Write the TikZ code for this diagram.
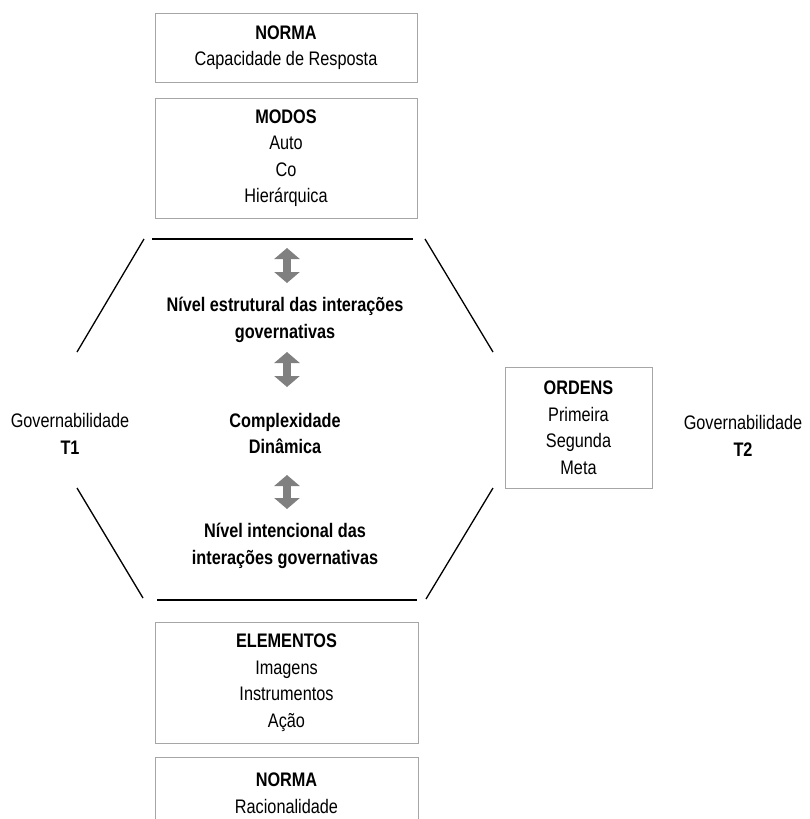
\documentclass[tikz,border=0pt]{standalone}
\usepackage{fontspec}
\setmainfont{Liberation Sans}[FakeStretch=0.83]
\usetikzlibrary{arrows.meta}
\definecolor{boxgray}{HTML}{A6A6A6}
\definecolor{arrowgray}{HTML}{808080}
\begin{document}
\begin{tikzpicture}[x=1pt,y=-1pt,
  every node/.style={font=\fontsize{19.6}{26.5}\selectfont, align=center, inner sep=0pt},
  infobox/.style={draw=boxgray, line width=1pt},
  hexside/.style={line width=1.3pt, black},
  hexedge/.style={line width=2pt, black},
  updown/.style={draw=arrowgray, line width=8pt,
    {Triangle[length=11pt,width=25pt]}-{Triangle[length=11pt,width=25pt]}},
  boldlabel/.style={font=\fontsize{19.6}{26.5}\selectfont\bfseries}
]
\useasboundingbox (0,0) rectangle (809,819);
\clip (0,0) rectangle (809,819);

% boxes above the hexagon
\node[infobox, minimum width=262pt, minimum height=69pt] (normatop) at (286,47.5)
  {\textbf{NORMA}\\Capacidade de Resposta};
\node[infobox, minimum width=262pt, minimum height=120pt] (modos) at (286,158)
  {\textbf{MODOS}\\Auto\\Co\\Hierárquica};

% hexagon outline
\draw[hexedge] (152,239) -- (413,239);
\draw[hexside] (144,239) -- (77,352);
\draw[hexside] (425,239) -- (493,352);
\draw[hexside] (77,488) -- (143,598);
\draw[hexside] (493,488) -- (426,599);
\draw[hexedge] (157,600) -- (417,600);

% contents of the hexagon
\coordinate (a1t) at (287,248);
\coordinate (a1b) at (287,283);
\coordinate (a2t) at (287,352);
\coordinate (a2b) at (287,387);
\coordinate (a3t) at (287,475);
\coordinate (a3b) at (287,509);
\draw[updown] (a1t) -- (a1b);
\node[boldlabel] (estrutural) at (285,320) {Nível estrutural das interações\\governativas};
\draw[updown] (a2t) -- (a2b);
\node[boldlabel] (complex) at (285,433.5) {Complexidade\\Dinâmica};
\draw[updown] (a3t) -- (a3b);
\node[boldlabel] (intencional) at (285,546) {Nível intencional das\\interações governativas};

% side labels
\node (t1) at (70,434) {Governabilidade\\\textbf{T1}};
\node (t2) at (743,436) {Governabilidade\\\textbf{T2}};
\node[infobox, minimum width=147pt, minimum height=121pt] (ordens) at (578.5,427.5)
  {\textbf{ORDENS}\\Primeira\\Segunda\\Meta};

% boxes below the hexagon
\node[infobox, minimum width=263pt, minimum height=121pt] (elementos) at (286.5,682.5)
  {\textbf{ELEMENTOS}\\Imagens\\Instrumentos\\Ação};
\node[infobox, minimum width=263pt, minimum height=72pt] (normabot) at (286.5,793)
  {\textbf{NORMA}\\Racionalidade};
\end{tikzpicture}
\end{document}
